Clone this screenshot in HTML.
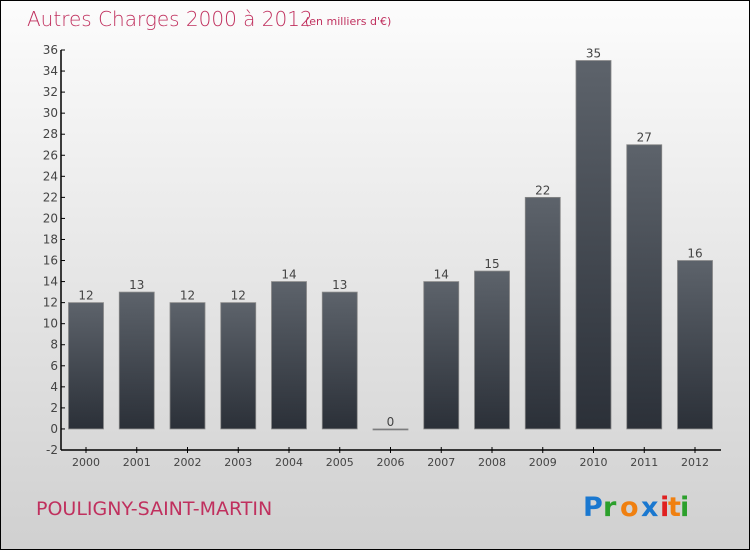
<!DOCTYPE html>
<html><head><meta charset="utf-8"><style>
html,body{margin:0;padding:0}
body{width:750px;height:550px;overflow:hidden;font-family:"DejaVu Sans","Liberation Sans",sans-serif}
#frame{position:absolute;left:0;top:0;width:748px;height:548px;border:1px solid #000;background:linear-gradient(#fcfcfc,#d0d0d0)}
</style></head><body>
<div id="frame">
<svg id="chart" width="750" height="550" style="position:absolute;left:-1px;top:-1px">
<defs><linearGradient id="bg" x1="0" y1="0" x2="0" y2="1"><stop offset="0" stop-color="#5d636b"/><stop offset="1" stop-color="#2b3038"/></linearGradient></defs>
<text x="27" y="26" font-size="20" fill="#c0305e" font-family="DejaVu Sans, sans-serif" font-weight="200" style="font-weight:lighter">Autres Charges 2000 à 2012</text>
<text x="305" y="25" font-size="11" fill="#c0305e">(en milliers d'€)</text>
<text x="36" y="515" font-size="19" fill="#c0305e">POULIGNY-SAINT-MARTIN</text>
<g font-size="27" font-family="DejaVu Sans, sans-serif" font-weight="bold">
<text x="583" y="516" fill="#1a78d0">P</text><text x="603" y="516" fill="#2ca02c">r</text><text x="620" y="516" fill="#f08010">o</text><text x="641" y="516" fill="#1a78d0">x</text><text x="660" y="516" fill="#e02020">i</text><text x="668" y="516" fill="#f08010">t</text><text x="680" y="516" fill="#2ca02c">i</text>
</g>
<g id="plot"></g>
</svg>
</div>
<script>
const years=["2000","2001","2002","2003","2004","2005","2006","2007","2008","2009","2010","2011","2012"];
const values=[12,13,12,12,14,13,0,14,15,22,35,27,16];
const yTicks=[-2,0,2,4,6,8,10,12,14,16,18,20,22,24,26,28,30,32,34,36];
const NS="http://www.w3.org/2000/svg";
const g=document.getElementById('plot');
const x0=61,x1=721,yMin=-2,yMax=36,yTop=50,yBot=450;
const y=v=>yBot-(v-yMin)/(yMax-yMin)*(yBot-yTop);
const step=50.75,first=86,bw=35;
const xc=i=>first+i*step;
function el(t,a){const e=document.createElementNS(NS,t);for(const k in a)e.setAttribute(k,a[k]);g.appendChild(e);return e;}
let ax=el('line',{x1:x0,y1:yTop,x2:x0,y2:yBot,stroke:'#000','stroke-width':1.5});


let bx=el('line',{x1:x0,y1:yBot,x2:x1,y2:yBot,stroke:'#000','stroke-width':1.5});


yTicks.forEach(t=>{
 let l=el('line',{x1:x0,y1:y(t),x2:x0+4,y2:y(t),stroke:'#000'});
 
 
 let tx=el('text',{x:x0-3,y:y(t)+4,'text-anchor':'end','font-size':12,fill:'#444'});
 tx.textContent=t;
 
 
});
years.forEach((yr,i)=>{
 const v=values[i],cx=xc(i);
 let tk=el('line',{x1:cx,y1:yBot-3,x2:cx,y2:yBot+3,stroke:'#000'});
 
 
 let lb=el('text',{x:cx,y:yBot+16,'text-anchor':'middle','font-size':11,fill:'#444'});
 lb.textContent=yr;
 
 
 const top=y(Math.max(v,0)),h=Math.max(Math.abs(y(0)-y(v)),1);
 let r=el('rect',{x:cx-bw/2,y:top,width:bw,height:h,fill:'url(#bg)',stroke:'#888','stroke-width':0.8});
 
 
 let vt=el('text',{x:cx,y:top-3,'text-anchor':'middle','font-size':12,fill:'#444'});
 vt.textContent=v;
 
 
});
</script>
</body></html>
